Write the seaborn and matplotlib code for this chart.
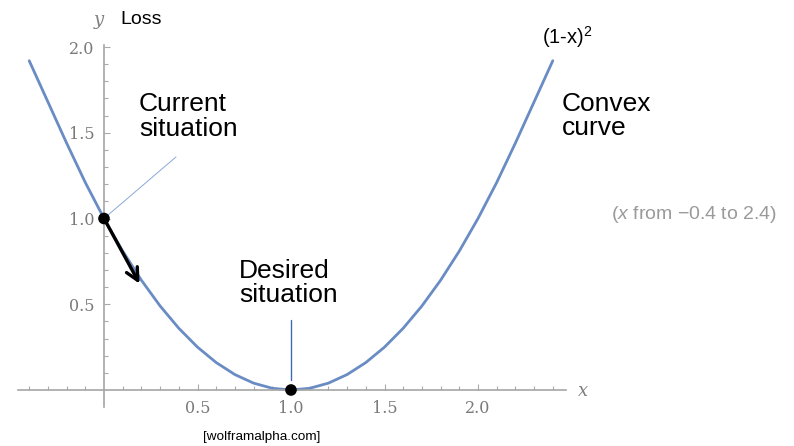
import numpy as np
import pandas as pd
import seaborn as sns
import matplotlib.pyplot as plt
import matplotlib.ticker as ticker

# curve (1-x)^2, x from -0.4 to 2.4
curve_x = [-0.4, -0.3, -0.2, -0.1, 0.0, 0.1, 0.2, 0.3, 0.4, 0.5, 0.6, 0.7, 0.8, 0.9,
           1.0, 1.1, 1.2, 1.3, 1.4, 1.5, 1.6, 1.7, 1.8, 1.9, 2.0, 2.1, 2.2, 2.3, 2.4]
curve_y = [1.92, 1.68, 1.44, 1.21, 1.00, 0.81, 0.64, 0.49, 0.36, 0.25, 0.16, 0.09, 0.04, 0.01,
           0.00, 0.01, 0.04, 0.09, 0.16, 0.25, 0.36, 0.49, 0.64, 0.81, 1.00, 1.21, 1.44, 1.68, 1.92]

# marked points: current and desired situation
point_x = [0.0, 1.0]
point_y = [1.0, 0.0]

# gradient step arrow (start -> end)
step_start = (0.0, 1.0)
step_end = (0.19, 0.62)

x_major = [0.5, 1.0, 1.5, 2.0]
y_major = [0.5, 1.0, 1.5, 2.0]
x_minor = [-0.4, -0.3, -0.2, -0.1, 0.1, 0.2, 0.3, 0.4, 0.6, 0.7, 0.8, 0.9,
           1.1, 1.2, 1.3, 1.4, 1.6, 1.7, 1.8, 1.9, 2.1, 2.2, 2.3, 2.4]
y_minor = [0.1, 0.2, 0.3, 0.4, 0.6, 0.7, 0.8, 0.9, 1.1, 1.2, 1.3, 1.4, 1.6, 1.7, 1.8, 1.9]

sns.set_style('white')
plt.rcParams['font.family'] = ['Liberation Sans', 'DejaVu Sans']
plt.rcParams['mathtext.fontset'] = 'custom'
plt.rcParams['mathtext.rm'] = 'Liberation Sans'
plt.rcParams['mathtext.it'] = 'Liberation Sans:italic'

W, H = 794, 446
fig = plt.figure(figsize=(W / 100, H / 100), dpi=100)
ax = fig.add_axes([0, 0, 1, 1])

# pixel mapping: x=0 at 104px, 187px/unit ; y=0 at 390px, 171.5px/unit
ax.set_xlim(-104 / 187, (W - 104) / 187)
ax.set_ylim(-(H - 390) / 171.5, 390 / 171.5)

df = pd.DataFrame({'x': curve_x, 'y': curve_y})
sns.lineplot(data=df, x='x', y='y', color='#6a8cc4', lw=2.0, ax=ax)

axis_col = '#a5a5a5'
for side in ['top', 'right']:
    ax.spines[side].set_visible(False)
ax.spines['left'].set_position(('data', 0))
ax.spines['bottom'].set_position(('data', 0))
ax.spines['left'].set_bounds(-0.1, 2.01)
ax.spines['bottom'].set_bounds(-0.46, 2.47)
for side in ['left', 'bottom']:
    ax.spines[side].set_color(axis_col)
    ax.spines[side].set_linewidth(1.2)

ax.xaxis.set_major_locator(ticker.FixedLocator(x_major))
ax.yaxis.set_major_locator(ticker.FixedLocator(y_major))
ax.xaxis.set_minor_locator(ticker.FixedLocator(x_minor))
ax.yaxis.set_minor_locator(ticker.FixedLocator(y_minor))
ax.xaxis.set_major_formatter(ticker.FormatStrFormatter('%.1f'))
ax.yaxis.set_major_formatter(ticker.FormatStrFormatter('%.1f'))
ax.tick_params(which='both', direction='in', color='#aaaaaa', width=0.8,
               bottom=True, left=True)
ax.tick_params(which='major', length=4.5)
ax.tick_params(which='minor', length=3)
ax.tick_params(axis='x', which='major', pad=7)
ax.tick_params(axis='y', which='major', pad=7)
for lab in ax.get_xticklabels() + ax.get_yticklabels():
    lab.set_family('DejaVu Serif')
    lab.set_fontsize(11.5)
    lab.set_color('#7a7a7a')
ax.set_xlabel('')
ax.set_ylabel('')

# connector lines
ax.plot([0.016, 0.385], [1.015, 1.359], color='#8aa8d6', lw=0.7)
ax.plot([1.0, 1.0], [0.058, 0.408], color='#3d6cb5', lw=1.0)

ax.annotate('', xy=step_end, xytext=step_start,
            arrowprops=dict(arrowstyle='->', lw=2.4, color='black', mutation_scale=22,
                            shrinkA=0, shrinkB=0))
sns.scatterplot(x=point_x, y=point_y, color='black', s=70, edgecolor='none', zorder=5, ax=ax)


def ftext(px, py, s, **kw):
    kw.setdefault('color', 'black')
    fig.text(px / W, 1 - py / H, s, **kw)


ftext(99, 20, 'y', family='DejaVu Serif', style='italic', fontsize=13, color='#808080',
      ha='center', va='center')
ftext(120, 20, 'Loss', fontsize=14, ha='left', va='center')
ftext(583, 391, 'x', family='DejaVu Serif', style='italic', fontsize=13, color='#808080',
      ha='center', va='center')
ftext(139, 92, 'Current\nsituation', fontsize=19, ha='left', va='top', linespacing=1.05)
ftext(562, 92, 'Convex\ncurve', fontsize=19, ha='left', va='top', linespacing=1.0)
ftext(239, 259, 'Desired\nsituation', fontsize=19, ha='left', va='top', linespacing=1.0)
ftext(542, 37, '(1-x)$^2$', fontsize=14.5, ha='left', va='center')
ftext(611, 214, '($\\it{x}$ from \u22120.4 to 2.4)', fontsize=14, color='#9a9a9a',
      ha='left', va='center')
ftext(262, 437, '[wolframalpha.com]', fontsize=9.7, ha='center', va='center')

fig.savefig('out.png', dpi=100)
